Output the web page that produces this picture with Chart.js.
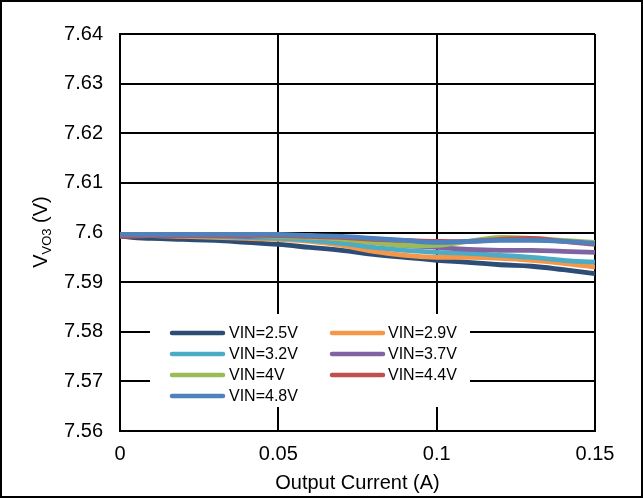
<!DOCTYPE html>
<html>
<head>
<meta charset="utf-8">
<script src="https://cdn.jsdelivr.net/npm/chart.js@4.4.1/dist/chart.umd.min.js"></script>
<style>
  html, body { margin: 0; padding: 0; background: #fff; }
  #wrap { width: 643px; height: 498px; position: relative; }
</style>
</head>
<body>
<div id="wrap"><canvas id="c" width="643" height="498"></canvas></div>
<script>
// ---- data ----
const currents = [0, 0.01, 0.02, 0.03, 0.04, 0.05, 0.06, 0.07, 0.08, 0.09, 0.10, 0.11, 0.12, 0.13, 0.14, 0.15];
const seriesNames = ['VIN=2.5V', 'VIN=2.9V', 'VIN=3.2V', 'VIN=3.7V', 'VIN=4V', 'VIN=4.4V', 'VIN=4.8V'];
const vin25 = [7.5992, 7.5988, 7.5986, 7.5984, 7.5980, 7.5976, 7.5970, 7.5964, 7.5956, 7.5950, 7.5944, 7.5940, 7.5935, 7.5932, 7.5925, 7.5917];
const vin29 = [7.5994, 7.5994, 7.5992, 7.5990, 7.5988, 7.5986, 7.5982, 7.5974, 7.5962, 7.5954, 7.5950, 7.5950, 7.5948, 7.5944, 7.5938, 7.5930];
const vin32 = [7.5994, 7.5994, 7.5994, 7.5992, 7.5990, 7.5988, 7.5984, 7.5978, 7.5970, 7.5964, 7.5960, 7.5958, 7.5954, 7.5950, 7.5944, 7.5940];
const vin37 = [7.5994, 7.5994, 7.5994, 7.5994, 7.5992, 7.5992, 7.5990, 7.5986, 7.5980, 7.5974, 7.5970, 7.5966, 7.5964, 7.5964, 7.5962, 7.5960];
const vin4  = [7.5994, 7.5996, 7.5996, 7.5994, 7.5994, 7.5992, 7.5990, 7.5986, 7.5980, 7.5974, 7.5974, 7.5982, 7.5990, 7.5988, 7.5984, 7.5980];
const vin44 = [7.5992, 7.5994, 7.5994, 7.5994, 7.5994, 7.5994, 7.5992, 7.5990, 7.5986, 7.5984, 7.5982, 7.5982, 7.5986, 7.5988, 7.5982, 7.5976];
const vin48 = [7.5996, 7.5996, 7.5996, 7.5996, 7.5996, 7.5996, 7.5994, 7.5992, 7.5988, 7.5984, 7.5980, 7.5982, 7.5984, 7.5984, 7.5982, 7.5978];
const xTickValues = [0, 0.05, 0.1, 0.15];
const xTickLabels = ['0', '0.05', '0.1', '0.15'];
const yTickValues = [7.56, 7.57, 7.58, 7.59, 7.60, 7.61, 7.62, 7.63, 7.64];
const yTickLabels = ['7.56', '7.57', '7.58', '7.59', '7.6', '7.61', '7.62', '7.63', '7.64'];

const seriesValues = [vin25, vin29, vin32, vin37, vin4, vin44, vin48];
const colors = ['#2C4D75', '#F79646', '#4BACC6', '#8064A2', '#9BBB59', '#C0504D', '#4F81BD'];

const FONT = '"Liberation Sans", Arial, sans-serif';

const datasets = seriesValues.map((vals, i) => ({
  label: seriesNames[i],
  data: vals.map((v, k) => ({ x: currents[k], y: v })),
  borderColor: colors[i],
  backgroundColor: colors[i],
  borderWidth: 4.8,
  pointRadius: 0,
  tension: 0.4,
  fill: false,
  order: seriesValues.length - 1 - i
}));

// custom legend inside plot + y title with subscript + frame
const extras = {
  id: 'extras',
  afterDatasetsDraw(chart) {
    const ctx = chart.ctx;
    ctx.save();
    ctx.fillStyle = '#fff';
    ctx.fillRect(150, 314, 320, 93);
    const cols = [{ lx: 170, tx: 229 }, { lx: 330, tx: 388 }];
    const placement = [[0, 0], [1, 0], [0, 1], [1, 1], [0, 2], [1, 2], [0, 3]];
    const rowsY = [333, 354, 375, 396];
    ctx.font = '16px ' + FONT;
    ctx.textBaseline = 'middle';
    ctx.textAlign = 'left';
    seriesNames.forEach((name, i) => {
      const [c, r] = placement[i];
      const y = rowsY[r];
      ctx.strokeStyle = colors[i];
      ctx.lineWidth = 4.5;
      ctx.lineCap = 'round';
      ctx.beginPath();
      ctx.moveTo(cols[c].lx + 2, y);
      ctx.lineTo(cols[c].lx + 53, y);
      ctx.stroke();
      ctx.fillStyle = '#000';
      ctx.fillText(name, cols[c].tx, y + 1);
    });
    ctx.restore();
  },
  afterDraw(chart) {
    const ctx = chart.ctx;
    ctx.save();
    ctx.translate(47, 232);
    ctx.rotate(-Math.PI / 2);
    ctx.fillStyle = '#000';
    ctx.textBaseline = 'alphabetic';
    ctx.textAlign = 'left';
    const big = '20px ' + FONT, small = '13px ' + FONT;
    ctx.font = big; const w1 = ctx.measureText('V').width;
    ctx.font = small; const w2 = ctx.measureText('VO3').width;
    ctx.font = big; const w3 = ctx.measureText(' (V)').width;
    let x = -(w1 + w2 + w3) / 2;
    ctx.font = big; ctx.fillText('V', x, 0); x += w1;
    ctx.font = small; ctx.fillText('VO3', x, 4); x += w2;
    ctx.font = big; ctx.fillText(' (V)', x, 0);
    ctx.restore();
    ctx.save();
    ctx.strokeStyle = '#000';
    ctx.lineWidth = 2;
    ctx.strokeRect(1, 1, chart.width - 2, chart.height - 2);
    ctx.restore();
  }
};

new Chart(document.getElementById('c'), {
  type: 'line',
  data: { datasets },
  options: {
    responsive: false,
    animation: false,
    events: [],
    layout: { padding: { top: 34, right: 48, left: 0, bottom: 0 } },
    plugins: { legend: { display: false }, tooltip: { enabled: false } },
    scales: {
      x: {
        type: 'linear',
        min: 0, max: 0.15,
        afterFit(s) { s.height = 67; },
        afterBuildTicks(s) { s.ticks = xTickValues.map(v => ({ value: v })); },
        ticks: {
          color: '#000',
          font: { family: FONT, size: 20 },
          padding: 11,
          maxRotation: 0,
          autoSkip: false,
          callback: (v) => xTickLabels[xTickValues.indexOf(v)]
        },
        grid: { color: '#000', lineWidth: 2, drawTicks: false },
        border: { color: '#000', width: 2 },
        title: {
          display: true,
          text: 'Output Current (A)',
          color: '#000',
          font: { family: FONT, size: 20 },
          padding: { top: 0, bottom: 3 }
        }
      },
      y: {
        type: 'linear',
        min: 7.56, max: 7.64,
        afterFit(s) { s.width = 120; },
        afterBuildTicks(s) { s.ticks = yTickValues.map(v => ({ value: v })); },
        ticks: {
          color: '#000',
          font: { family: FONT, size: 20 },
          padding: 17,
          autoSkip: false,
          callback: (v) => yTickLabels[yTickValues.findIndex(t => Math.abs(t - v) < 1e-9)]
        },
        grid: { color: '#000', lineWidth: 2, drawTicks: false },
        border: { color: '#000', width: 2 }
      }
    }
  },
  plugins: [extras]
});
</script>
</body>
</html>
